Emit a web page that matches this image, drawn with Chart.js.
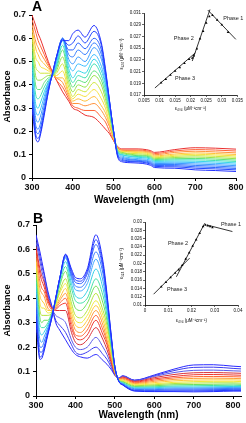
<!DOCTYPE html>
<html>
<head>
<meta charset="utf-8">
<script src="https://cdn.jsdelivr.net/npm/chart.js@4.4.1/dist/chart.umd.min.js"></script>
<style>
html, body { margin: 0; padding: 0; background: #fff; }
body { width: 246px; height: 423px; position: relative; overflow: hidden; font-family: "Liberation Sans", Arial, sans-serif; }
canvas { position: absolute; }
.tag { position: absolute; font-weight: bold; font-size: 14px; line-height: 14px; color: #000; }
</style>
</head>
<body>
<canvas id="specA" width="246" height="210" style="left:0;top:0"></canvas>
<canvas id="specB" width="246" height="213" style="left:0;top:210px"></canvas>
<canvas id="insetA" width="132" height="108" style="left:112px;top:8px"></canvas>
<canvas id="insetB" width="132" height="110" style="left:112px;top:216px"></canvas>
<div class="tag" style="left:32px;top:-1px">A</div>
<div class="tag" style="left:33px;top:211px">B</div>
<script>
// ---- panel A spectra: one row per wavelength, one column per titration step (blue -> red)
var wlA = [300, 310, 315, 320, 330, 340, 350, 360, 375, 390, 400, 413, 430, 452, 470, 480, 490, 500, 510, 520, 550, 590, 600, 650, 700, 750, 800];
var absA = [
  [0.30, 0.33, 0.36, 0.39, 0.42, 0.45, 0.48, 0.51, 0.54, 0.57, 0.60, 0.62, 0.64, 0.66, 0.68, 0.70],
  [0.165, 0.18, 0.20, 0.22, 0.25, 0.28, 0.31, 0.35, 0.39, 0.43, 0.47, 0.51, 0.55, 0.58, 0.62, 0.65],
  [0.155, 0.17, 0.19, 0.21, 0.24, 0.27, 0.30, 0.34, 0.38, 0.42, 0.46, 0.50, 0.53, 0.56, 0.59, 0.62],
  [0.18, 0.19, 0.21, 0.23, 0.26, 0.29, 0.32, 0.35, 0.38, 0.42, 0.45, 0.48, 0.51, 0.54, 0.57, 0.60],
  [0.27, 0.28, 0.29, 0.31, 0.33, 0.35, 0.37, 0.39, 0.41, 0.43, 0.45, 0.47, 0.49, 0.51, 0.53, 0.55],
  [0.37, 0.37, 0.38, 0.39, 0.40, 0.41, 0.41, 0.42, 0.43, 0.44, 0.45, 0.46, 0.47, 0.48, 0.49, 0.50],
  [0.45, 0.45, 0.445, 0.44, 0.44, 0.44, 0.44, 0.44, 0.44, 0.44, 0.44, 0.445, 0.45, 0.45, 0.455, 0.455],
  [0.52, 0.52, 0.52, 0.52, 0.51, 0.50, 0.49, 0.48, 0.47, 0.46, 0.45, 0.44, 0.43, 0.43, 0.42, 0.42],
  [0.59, 0.595, 0.60, 0.60, 0.60, 0.60, 0.59, 0.57, 0.55, 0.52, 0.49, 0.46, 0.43, 0.41, 0.39, 0.37],
  [0.59, 0.57, 0.55, 0.53, 0.51, 0.49, 0.47, 0.45, 0.43, 0.41, 0.39, 0.37, 0.36, 0.35, 0.34, 0.33],
  [0.62, 0.58, 0.55, 0.52, 0.49, 0.46, 0.43, 0.41, 0.39, 0.37, 0.35, 0.34, 0.33, 0.32, 0.31, 0.30],
  [0.635, 0.61, 0.58, 0.55, 0.52, 0.49, 0.46, 0.44, 0.42, 0.40, 0.38, 0.36, 0.34, 0.32, 0.30, 0.29],
  [0.605, 0.58, 0.555, 0.53, 0.50, 0.48, 0.45, 0.43, 0.41, 0.39, 0.37, 0.35, 0.33, 0.31, 0.29, 0.27],
  [0.655, 0.63, 0.60, 0.58, 0.56, 0.53, 0.51, 0.49, 0.46, 0.44, 0.41, 0.38, 0.35, 0.32, 0.29, 0.26],
  [0.58, 0.57, 0.55, 0.53, 0.51, 0.48, 0.46, 0.44, 0.42, 0.40, 0.37, 0.34, 0.31, 0.29, 0.26, 0.23],
  [0.47, 0.46, 0.45, 0.44, 0.43, 0.41, 0.40, 0.38, 0.36, 0.34, 0.32, 0.30, 0.28, 0.26, 0.24, 0.21],
  [0.33, 0.33, 0.33, 0.32, 0.32, 0.31, 0.30, 0.29, 0.28, 0.27, 0.26, 0.24, 0.23, 0.22, 0.20, 0.19],
  [0.20, 0.20, 0.20, 0.20, 0.20, 0.20, 0.20, 0.19, 0.19, 0.19, 0.18, 0.18, 0.17, 0.17, 0.16, 0.16],
  [0.09, 0.095, 0.10, 0.10, 0.105, 0.11, 0.11, 0.115, 0.115, 0.12, 0.12, 0.125, 0.125, 0.13, 0.13, 0.135],
  [0.07, 0.075, 0.08, 0.085, 0.09, 0.095, 0.10, 0.10, 0.105, 0.11, 0.11, 0.115, 0.115, 0.12, 0.12, 0.125],
  [0.065, 0.07, 0.073, 0.077, 0.08, 0.085, 0.09, 0.093, 0.097, 0.10, 0.105, 0.11, 0.113, 0.117, 0.12, 0.125],
  [0.055, 0.06, 0.064, 0.068, 0.072, 0.077, 0.082, 0.086, 0.09, 0.094, 0.098, 0.102, 0.106, 0.11, 0.114, 0.118],
  [0.045, 0.05, 0.054, 0.058, 0.062, 0.067, 0.071, 0.075, 0.079, 0.083, 0.087, 0.091, 0.095, 0.10, 0.105, 0.11],
  [0.042, 0.048, 0.053, 0.058, 0.063, 0.068, 0.073, 0.078, 0.083, 0.088, 0.093, 0.098, 0.103, 0.11, 0.116, 0.122],
  [0.035, 0.042, 0.048, 0.054, 0.06, 0.066, 0.072, 0.078, 0.084, 0.09, 0.096, 0.102, 0.108, 0.115, 0.122, 0.13],
  [0.032, 0.039, 0.045, 0.051, 0.057, 0.063, 0.069, 0.075, 0.081, 0.087, 0.093, 0.099, 0.105, 0.112, 0.12, 0.128],
  [0.028, 0.035, 0.041, 0.047, 0.053, 0.059, 0.065, 0.071, 0.077, 0.083, 0.089, 0.095, 0.101, 0.108, 0.116, 0.124]
];
var colorsA = ['#2030ff', '#2348ff', '#2a62ff', '#357eff', '#3f9cff', '#3cbcff', '#38d6e8', '#3ee0b4',
               '#5ee27a', '#96e44c', '#cfe63c', '#f6e03a', '#ffbe3a', '#ff923a', '#ff6236', '#ea3030'];

// ---- panel B spectra
var wlB = [300, 310, 315, 320, 330, 340, 350, 360, 375, 390, 400, 413, 430, 452, 470, 480, 490, 500, 510, 520, 550, 600, 650, 700, 750, 800, 820];
var absB = [
  [0.30, 0.33, 0.36, 0.39, 0.42, 0.45, 0.47, 0.49, 0.51, 0.53, 0.55, 0.56, 0.58, 0.60, 0.61, 0.63, 0.65, 0.66],
  [0.15, 0.16, 0.18, 0.20, 0.23, 0.26, 0.29, 0.32, 0.35, 0.38, 0.41, 0.44, 0.47, 0.50, 0.52, 0.55, 0.57, 0.59],
  [0.155, 0.165, 0.18, 0.20, 0.22, 0.25, 0.28, 0.30, 0.33, 0.36, 0.39, 0.42, 0.44, 0.47, 0.49, 0.51, 0.53, 0.55],
  [0.18, 0.19, 0.20, 0.22, 0.24, 0.26, 0.28, 0.31, 0.33, 0.36, 0.38, 0.41, 0.43, 0.45, 0.47, 0.48, 0.50, 0.51],
  [0.25, 0.255, 0.26, 0.27, 0.28, 0.29, 0.30, 0.31, 0.33, 0.34, 0.35, 0.36, 0.38, 0.39, 0.40, 0.41, 0.42, 0.43],
  [0.32, 0.32, 0.32, 0.325, 0.33, 0.33, 0.335, 0.34, 0.34, 0.345, 0.35, 0.35, 0.355, 0.36, 0.36, 0.36, 0.365, 0.37],
  [0.40, 0.40, 0.40, 0.40, 0.40, 0.39, 0.39, 0.385, 0.38, 0.375, 0.37, 0.365, 0.36, 0.355, 0.35, 0.33, 0.31, 0.30],
  [0.48, 0.48, 0.48, 0.48, 0.48, 0.47, 0.46, 0.45, 0.43, 0.42, 0.40, 0.39, 0.38, 0.37, 0.35, 0.32, 0.29, 0.27],
  [0.58, 0.58, 0.575, 0.57, 0.565, 0.55, 0.53, 0.51, 0.48, 0.46, 0.44, 0.42, 0.40, 0.38, 0.35, 0.30, 0.26, 0.23],
  [0.52, 0.51, 0.50, 0.49, 0.48, 0.46, 0.44, 0.41, 0.38, 0.36, 0.34, 0.32, 0.30, 0.28, 0.26, 0.23, 0.21, 0.19],
  [0.485, 0.475, 0.465, 0.45, 0.435, 0.41, 0.39, 0.36, 0.33, 0.31, 0.29, 0.27, 0.25, 0.24, 0.22, 0.20, 0.18, 0.17],
  [0.48, 0.47, 0.46, 0.445, 0.43, 0.40, 0.38, 0.35, 0.32, 0.30, 0.28, 0.26, 0.245, 0.23, 0.21, 0.19, 0.17, 0.16],
  [0.52, 0.51, 0.50, 0.48, 0.46, 0.43, 0.40, 0.38, 0.35, 0.33, 0.31, 0.29, 0.27, 0.25, 0.23, 0.20, 0.18, 0.155],
  [0.66, 0.64, 0.62, 0.59, 0.56, 0.52, 0.48, 0.45, 0.42, 0.39, 0.37, 0.35, 0.33, 0.31, 0.28, 0.24, 0.20, 0.17],
  [0.55, 0.535, 0.52, 0.50, 0.47, 0.44, 0.41, 0.38, 0.35, 0.33, 0.31, 0.29, 0.27, 0.25, 0.23, 0.20, 0.17, 0.145],
  [0.42, 0.41, 0.40, 0.39, 0.37, 0.35, 0.33, 0.31, 0.29, 0.27, 0.25, 0.23, 0.22, 0.21, 0.19, 0.17, 0.15, 0.13],
  [0.26, 0.26, 0.25, 0.25, 0.24, 0.23, 0.22, 0.21, 0.20, 0.19, 0.18, 0.17, 0.16, 0.15, 0.14, 0.13, 0.12, 0.11],
  [0.12, 0.12, 0.12, 0.12, 0.12, 0.115, 0.115, 0.11, 0.11, 0.105, 0.10, 0.10, 0.095, 0.095, 0.09, 0.09, 0.085, 0.085],
  [0.06, 0.06, 0.06, 0.062, 0.062, 0.064, 0.064, 0.065, 0.066, 0.067, 0.068, 0.069, 0.07, 0.07, 0.071, 0.072, 0.073, 0.074],
  [0.045, 0.046, 0.047, 0.049, 0.051, 0.053, 0.055, 0.058, 0.06, 0.063, 0.066, 0.069, 0.072, 0.075, 0.078, 0.08, 0.082, 0.083],
  [0.02, 0.022, 0.024, 0.027, 0.03, 0.033, 0.036, 0.039, 0.042, 0.045, 0.048, 0.051, 0.054, 0.057, 0.06, 0.062, 0.064, 0.065],
  [0.018, 0.02, 0.023, 0.026, 0.03, 0.034, 0.038, 0.042, 0.046, 0.05, 0.055, 0.06, 0.065, 0.07, 0.075, 0.08, 0.083, 0.086],
  [0.018, 0.021, 0.025, 0.029, 0.033, 0.037, 0.041, 0.046, 0.051, 0.056, 0.062, 0.068, 0.074, 0.08, 0.088, 0.096, 0.104, 0.11],
  [0.017, 0.021, 0.025, 0.029, 0.033, 0.037, 0.042, 0.047, 0.053, 0.059, 0.065, 0.072, 0.079, 0.087, 0.095, 0.105, 0.117, 0.127],
  [0.018, 0.022, 0.026, 0.03, 0.034, 0.038, 0.043, 0.048, 0.054, 0.06, 0.066, 0.073, 0.08, 0.088, 0.096, 0.106, 0.118, 0.128],
  [0.02, 0.023, 0.027, 0.031, 0.035, 0.039, 0.044, 0.049, 0.054, 0.06, 0.066, 0.072, 0.079, 0.086, 0.094, 0.103, 0.113, 0.122],
  [0.02, 0.023, 0.027, 0.031, 0.035, 0.039, 0.043, 0.048, 0.053, 0.059, 0.065, 0.071, 0.078, 0.085, 0.093, 0.102, 0.111, 0.12]
];
var colorsB = ['#1f2bff', '#2540ff', '#2f5cff', '#3a7cff', '#3fa6ff', '#35cfe6', '#45e0a8', '#6ee05c', '#b4e43c',
               '#f0e83a', '#ffc83a', '#ff9c38', '#ff6a36', '#f03a30', '#d8303a', '#5a5ae8', '#3b3bf0', '#2a2aff'];

// ---- insets: eps324 vs eps404
var epsA404 = [0.0105, 0.012, 0.0135, 0.015, 0.0165, 0.018, 0.0195, 0.0205, 0.021, 0.022, 0.023, 0.024, 0.025, 0.026, 0.027, 0.0285, 0.030, 0.032];
var epsA324 = [0.0191, 0.0197, 0.0204, 0.0211, 0.0217, 0.0224, 0.0231, 0.0233, 0.0237, 0.0249, 0.0266, 0.0279, 0.0293, 0.0304, 0.0306, 0.0298, 0.0290, 0.0277];
var fitA = [
  [[0.0085, 0.0182], [0.0215, 0.0242]],
  [[0.0205, 0.0228], [0.0262, 0.0316]],
  [[0.0255, 0.0315], [0.0345, 0.0265]]
];
var epsB404 = [0.007, 0.009, 0.011, 0.013, 0.0145, 0.016, 0.0175, 0.019, 0.0205, 0.022, 0.0235, 0.025, 0.026, 0.027, 0.028, 0.029];
var epsB324 = [0.0144, 0.0155, 0.0166, 0.0177, 0.0185, 0.0196, 0.0211, 0.0226, 0.0242, 0.0257, 0.0273, 0.0289, 0.0293, 0.0291, 0.0289, 0.0287];
var fitB = [
  [[0.0037, 0.0126], [0.0192, 0.0213]],
  [[0.0135, 0.0168], [0.0257, 0.0297]],
  [[0.0265, 0.0293], [0.0376, 0.0277]]
];
var phaseA = [{text: 'Phase 1', x: 0.0337, y: 0.0301}, {text: 'Phase 2', x: 0.0178, y: 0.0266}, {text: 'Phase 3', x: 0.0182, y: 0.0199}];
var phaseB = [{text: 'Phase 1', x: 0.0370, y: 0.0293}, {text: 'Phase 2', x: 0.0142, y: 0.0248}, {text: 'Phase 3', x: 0.0138, y: 0.0137}];

var FONT = '"Liberation Sans", Arial, sans-serif';
Chart.defaults.font.family = FONT;
Chart.defaults.color = '#000';

function spectraSets(wl, rows, colors) {
    var sets = [];
    for (var j = 0; j < colors.length; j++) {
        var pts = [];
        for (var i = 0; i < wl.length; i++) {
            pts.push({x: wl[i], y: rows[i][j]});
        }
        sets.push({
            data: pts,
            borderColor: colors[j],
            borderWidth: 1,
            pointRadius: 0,
            cubicInterpolationMode: 'monotone',
            fill: false
        });
    }
    return sets;
}

function spectrumChart(id, wl, rows, colors, xMax, yW, xH, pad, tickPad, titleBottom) {
    return new Chart(document.getElementById(id), {
        type: 'line',
        data: {datasets: spectraSets(wl, rows, colors)},
        options: {
            responsive: false,
            animation: false,
            events: [],
            layout: {padding: pad},
            plugins: {legend: {display: false}, tooltip: {enabled: false}},
            scales: {
                x: {
                    type: 'linear', min: 300, max: xMax,
                    ticks: {stepSize: 100, includeBounds: false, maxRotation: 0, padding: tickPad,
                            font: {size: 9, weight: 'bold'}, color: '#111'},
                    grid: {display: true, drawOnChartArea: false, tickLength: 3, color: '#000'},
                    border: {display: true, color: '#000', width: 1},
                    title: {display: true, text: 'Wavelength (nm)', font: {size: 10, weight: 'bold'},
                            padding: {top: 0, bottom: titleBottom}},
                    afterFit: function (s) { s.height = xH; }
                },
                y: {
                    min: 0, max: 0.7,
                    ticks: {stepSize: 0.1, padding: 3, font: {size: 9, weight: 'bold'}, color: '#111',
                            callback: function (v) { return v === 0 ? '0' : v.toFixed(1); }},
                    grid: {display: true, drawOnChartArea: false, tickLength: 3, color: '#000'},
                    border: {display: true, color: '#000', width: 1},
                    title: {display: true, text: 'Absorbance', font: {size: 9, weight: 'bold'},
                            padding: {top: 2, bottom: 0}},
                    afterFit: function (s) { s.width = yW; }
                }
            }
        }
    });
}

var phaseText = {
    id: 'phaseText',
    afterDatasetsDraw: function (chart, args, opts) {
        var ctx = chart.ctx, x = chart.scales.x, y = chart.scales.y;
        ctx.save();
        ctx.font = '5.5px ' + FONT;
        ctx.fillStyle = '#222';
        ctx.textAlign = 'center';
        ctx.textBaseline = 'middle';
        opts.labels.forEach(function (l) {
            ctx.fillText(l.text, x.getPixelForValue(l.x), y.getPixelForValue(l.y));
        });
        ctx.restore();
    }
};

function fmt(v) { return String(parseFloat(v.toFixed(3))); }

function insetChart(id, xs, ys, fits, labels, xr, yr, yW, xH, pad, titleBottom) {
    var pts = xs.map(function (v, i) { return {x: v, y: ys[i]}; });
    var sets = [{
        type: 'scatter', data: pts, pointStyle: 'triangle', pointRadius: 1.5,
        backgroundColor: '#000', borderColor: '#000', borderWidth: 0
    }];
    fits.forEach(function (f) {
        sets.push({
            type: 'line', data: f.map(function (p) { return {x: p[0], y: p[1]}; }),
            borderColor: '#000', borderWidth: 0.8, pointRadius: 0, clip: false
        });
    });
    var small = {size: 4.5};
    return new Chart(document.getElementById(id), {
        type: 'scatter',
        data: {datasets: sets},
        options: {
            responsive: false,
            animation: false,
            events: [],
            layout: {padding: pad},
            plugins: {legend: {display: false}, tooltip: {enabled: false}, phaseText: {labels: labels}},
            scales: {
                x: {
                    type: 'linear', min: xr[0], max: xr[1],
                    ticks: {stepSize: xr[2], autoSkip: false, maxRotation: 0, padding: 1, font: small, color: '#111', callback: fmt},
                    grid: {display: true, drawOnChartArea: false, tickLength: 2, color: '#000', lineWidth: 0.6},
                    border: {display: true, color: '#000', width: 0.8},
                    title: {display: true, text: 'ε₄₀₄ (μM⁻¹cm⁻¹)', font: small, padding: {top: 0, bottom: titleBottom}},
                    afterFit: function (s) { s.height = xH; }
                },
                y: {
                    min: yr[0], max: yr[1],
                    ticks: {stepSize: yr[2], autoSkip: false, padding: 1, font: small, color: '#111', callback: fmt},
                    grid: {display: true, drawOnChartArea: false, tickLength: 2, color: '#000', lineWidth: 0.6},
                    border: {display: true, color: '#000', width: 0.8},
                    title: {display: true, text: 'ε₃₂₄ (μM⁻¹cm⁻¹)', font: small, padding: {top: 7, bottom: 0}},
                    afterFit: function (s) { s.width = yW; }
                }
            }
        },
        plugins: [phaseText]
    });
}

spectrumChart('specA', wlA, absA, colorsA, 800, 32, 32, {top: 15, right: 10, left: 0, bottom: 0}, 1, 4);
spectrumChart('specB', wlB, absB, colorsB, 820, 36, 27, {top: 15, right: 5, left: 0, bottom: 0}, 1, 2);
insetChart('insetA', epsA404, epsA324, fitA, phaseA, [0.005, 0.035, 0.005], [0.017, 0.031, 0.002], 32, 21,
           {top: 5, right: 6, left: 0, bottom: 0}, 5);
insetChart('insetB', epsB404, epsB324, fitB, phaseB, [0, 0.04, 0.01], [0.01, 0.03, 0.002], 33, 21,
           {top: 6, right: 6, left: 0, bottom: 0}, 3);
</script>
</body>
</html>
